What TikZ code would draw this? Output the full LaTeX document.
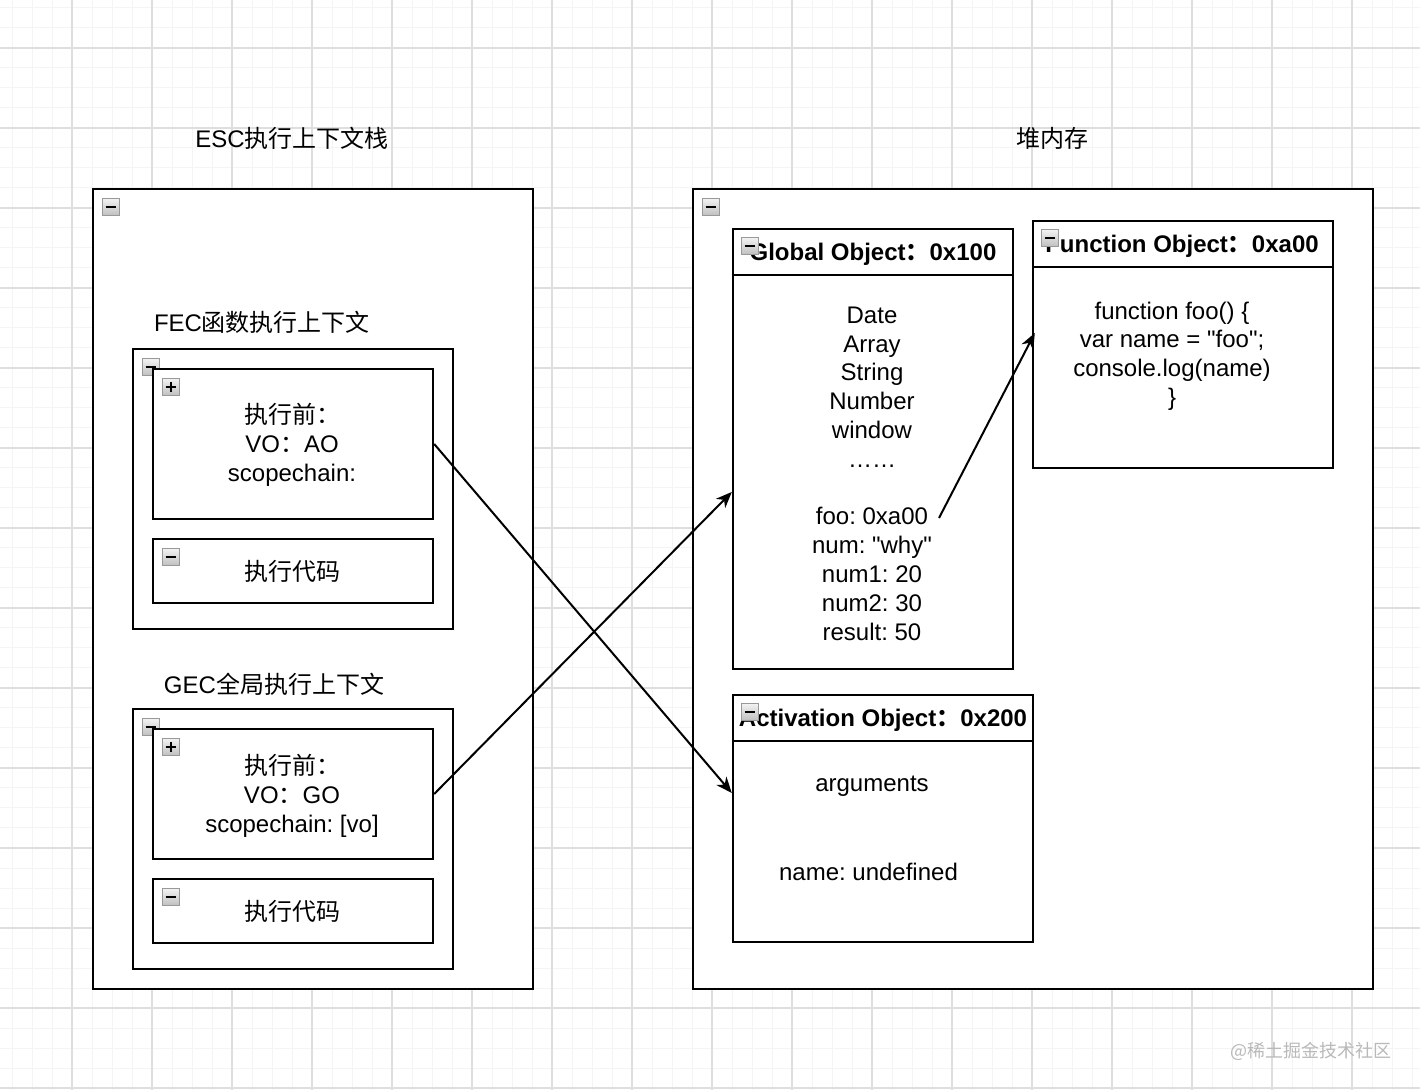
\documentclass[tikz,border=0pt]{standalone}
\usepackage{fontspec}
\setmainfont{Liberation Sans}
\newfontfamily\cjkf{Noto Sans CJK SC}
\newcommand\zhtxt[1]{{\cjkf #1}}
\usetikzlibrary{arrows.meta,calc}
\frenchspacing
\begin{document}
\begin{tikzpicture}[x=0.5pt,y=-0.5pt,
  box/.style={draw=black, line width=1.2pt, fill=white, inner sep=0pt, rectangle},
  txt/.style={font=\fontsize{12pt}{14.4pt}\selectfont, align=center, inner sep=0pt},
  hdr/.style={font=\fontsize{12pt}{14.4pt}\selectfont\bfseries, inner sep=0pt},
  link/.style={line width=1pt, -{Stealth[length=8pt,width=6.5pt,inset=2.5pt]}},
  minorgrid/.style={gray!9, line width=0.5pt},
  majorgrid/.style={gray!26, line width=0.6pt},
  pics/collapse/.style={code={
    \shadedraw[top color=gray!10, bottom color=gray!50, draw=gray!80, line width=0.6pt] (-4.2pt,-4.2pt) rectangle (4.2pt,4.2pt);
    \draw[line width=1pt] (-2.7pt,0) -- (2.7pt,0);
  }},
  pics/expand/.style={code={
    \shadedraw[top color=gray!10, bottom color=gray!50, draw=gray!80, line width=0.6pt] (-4.2pt,-4.2pt) rectangle (4.2pt,4.2pt);
    \draw[line width=1pt] (-2.7pt,0) -- (2.7pt,0);
    \draw[line width=1pt] (0,-2.7pt) -- (0,2.7pt);
  }}
]
% background and grid
\fill[white] (0,0) rectangle (1420,1090);
\useasboundingbox (0,0) rectangle (1420,1090);
\foreach \x in {12,32,...,1420} \draw[minorgrid] (\x,0) -- (\x,1090);
\foreach \y in {8,28,...,1090} \draw[minorgrid] (0,\y) -- (1420,\y);
\foreach \x in {72,152,...,1420} \draw[majorgrid] (\x,0) -- (\x,1090);
\foreach \y in {48,128,...,1090} \draw[majorgrid] (0,\y) -- (1420,\y);

% titles
\node[txt] (esctitle) at (292,138) {ESC\zhtxt{执行上下文栈}};
\node[txt] (heaptitle) at (1052,138) {\zhtxt{堆内存}};

% left stack
\node[box, minimum width=220pt, minimum height=400pt] (esc) at (313,589) {};
\pic at (111,207) {collapse};
\node[txt] (fectitle) at (262,322) {FEC\zhtxt{函数执行上下文}};
\node[box, minimum width=160pt, minimum height=140pt] (fec) at (293,489) {};
\pic at (151,367) {collapse};
\node[box, minimum width=140pt, minimum height=75pt] (fecpre) at (293,444) {};
\pic at (171,387) {expand};
\node[txt] (fecpretxt) at (292,445) {\zhtxt{执行前：}\\VO\zhtxt{：}AO\\scopechain:};
\node[box, minimum width=140pt, minimum height=32pt] (feccode) at (293,571) {};
\pic at (171,557) {collapse};
\node[txt] (feccodetxt) at (292,571) {\zhtxt{执行代码}};

\node[txt] (gectitle) at (274,684) {GEC\zhtxt{全局执行上下文}};
\node[box, minimum width=160pt, minimum height=130pt] (gec) at (293,839) {};
\pic at (151,727) {collapse};
\node[box, minimum width=140pt, minimum height=65pt] (gecpre) at (293,794) {};
\pic at (171,747) {expand};
\node[txt] (gecpretxt) at (292,796) {\zhtxt{执行前：}\\VO\zhtxt{：}GO\\scopechain: [vo]};
\node[box, minimum width=140pt, minimum height=32pt] (geccode) at (293,911) {};
\pic at (171,897) {collapse};
\node[txt] (geccodetxt) at (292,911) {\zhtxt{执行代码}};

% heap
\node[box, minimum width=340pt, minimum height=400pt] (heap) at (1033,589) {};
\pic at (711,207) {collapse};

\node[box, minimum width=140pt, minimum height=220pt] (go) at (873,449) {};
\draw[line width=1.2pt] (go.west |- 0,275) -- (go.east |- 0,275);
\node[hdr] (gohdr) at (873,254) {Global Object\zhtxt{：}0x100};
\pic at (750,246) {collapse};
\node[txt] (gobody) at (872,473.5) {Date\\Array\\String\\Number\\window\\……\\[14.4pt]foo: 0xa00\\num: \textquotedbl why\textquotedbl\\num1: 20\\num2: 30\\result: 50};

\node[box, minimum width=150pt, minimum height=123.5pt] (fo) at (1183,344.5) {};
\draw[line width=1.2pt] (fo.west |- 0,267) -- (fo.east |- 0,267);
\node[hdr] (fohdr) at (1182,246) {Function Object\zhtxt{：}0xa00};
\pic at (1050,238) {collapse};
\node[txt] (fobody) at (1172,356) {function foo() \{\\var name = \textquotedbl foo\textquotedbl;\\console.log(name)\\\}};

\node[box, minimum width=150pt, minimum height=123.5pt] (ao) at (883,818.5) {};
\draw[line width=1.2pt] (ao.west |- 0,741) -- (ao.east |- 0,741);
\node[hdr] (aohdr) at (883,720) {Activation Object\zhtxt{：}0x200};
\pic at (750,712) {collapse};
\node[txt] (aoargs) at (872,786) {arguments};
\node[txt] (aoname) at (868.5,872) {name: undefined};

% connectors
\coordinate (fooref) at (939,518);
\draw[link] (fecpre.east) -- ([yshift=12.75pt]ao.west);
\draw[link] (gecpre.east) -- ([yshift=-21.5pt]go.west);
\draw[link] (fooref) -- ([xshift=1.5pt,yshift=5.75pt]fo.west);

% watermark
\node[inner sep=0pt, font=\cjkf\fontsize{9pt}{11pt}\selectfont, text=gray!55] (wm) at (1311,1051) {@稀土掘金技术社区};
\end{tikzpicture}
\end{document}
